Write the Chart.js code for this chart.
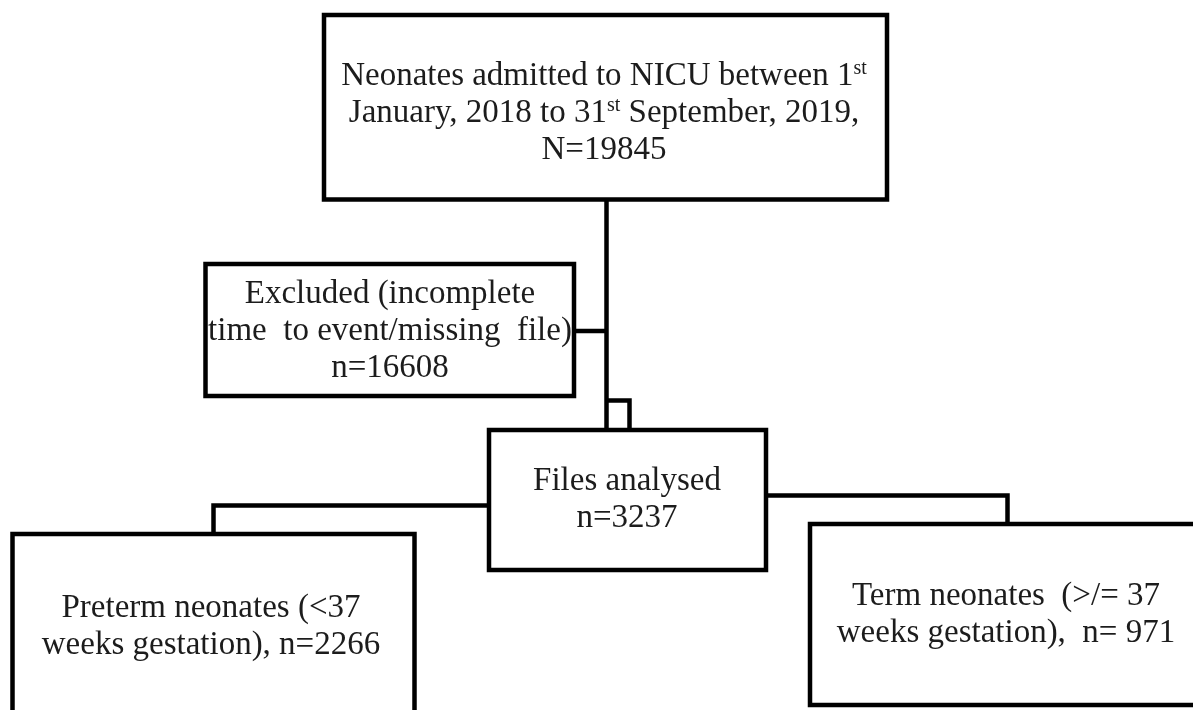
<!DOCTYPE html>
<html><head><meta charset="utf-8">
<script src="https://cdn.jsdelivr.net/npm/chart.js@4.4.1/dist/chart.umd.min.js"></script>
<style>html,body{margin:0;padding:0;background:#fff;overflow:hidden}canvas{display:block}</style>
</head><body>
<canvas id="c" width="1193" height="710"></canvas>
<script>
// ---- flowchart content ----
const nodeNames = ['admitted', 'excluded', 'analysed', 'preterm', 'term'];
const nodeLabels = [
  ['Neonates admitted to NICU between 1^st', 'January, 2018 to 31^st September, 2019,', 'N=19845'],
  ['Excluded (incomplete', 'time  to event/missing  file)', 'n=16608'],
  ['Files analysed', 'n=3237'],
  ['Preterm neonates (<37', 'weeks gestation), n=2266'],
  ['Term neonates  (>/= 37', 'weeks gestation),  n= 971']
];
const nodeCounts = [19845, 16608, 3237, 2266, 971];
// box extents (flowchart units)
const boxLeft   = [324, 205.5, 489, 12.5, 810];
const boxRight  = [887, 574, 766, 414.5, 1210];
const boxTop    = [15, 264, 430, 534, 524];
const boxBottom = [199.5, 396, 570, 720, 705];
const textCenterX = [604, 390, 627, 211, 1006];
const textFirstBaseline = [85, 303, 490, 617, 605];
// connectors as vertex lists
const links = [
  [[606.5, 199.5], [606.5, 430]],
  [[574, 331], [606.5, 331]],
  [[606.5, 400.5], [629.5, 400.5], [629.5, 430]],
  [[489, 505.5], [213.5, 505.5], [213.5, 534]],
  [[766, 495.5], [1007.5, 495.5], [1007.5, 524]]
];

const INK = '#000000';
const TXT = '#1c1c1c';
const FONT = '"Liberation Serif", "Times New Roman", serif';
const FS = 33, SUP = 20, LINE_H = 37;

const datasets = [];
nodeNames.forEach((n, i) => {
  datasets.push({
    label: n,
    data: [
      {x: boxLeft[i], y: boxTop[i]}, {x: boxRight[i], y: boxTop[i]},
      {x: boxRight[i], y: boxBottom[i]}, {x: boxLeft[i], y: boxBottom[i]},
      {x: boxLeft[i], y: boxTop[i]}
    ],
    showLine: true, borderColor: INK, borderWidth: 4.5, pointRadius: 0,
    borderJoinStyle: 'miter', borderCapStyle: 'square', fill: false, tension: 0, clip: false
  });
});
links.forEach((pts, i) => {
  datasets.push({
    label: 'link' + i,
    data: pts.map(p => ({x: p[0], y: p[1]})),
    showLine: true, borderColor: INK, borderWidth: 4.5, pointRadius: 0,
    borderJoinStyle: 'miter', borderCapStyle: 'butt', fill: false, tension: 0, clip: false
  });
});

function segs(line) {
  const out = [];
  const re = /\^(\w+)/g;
  let last = 0, m;
  while ((m = re.exec(line))) {
    if (m.index > last) out.push({t: line.slice(last, m.index), sup: false});
    out.push({t: m[1], sup: true});
    last = re.lastIndex;
  }
  if (last < line.length) out.push({t: line.slice(last), sup: false});
  return out;
}

const textPlugin = {
  id: 'nodeText',
  afterDatasetsDraw(chart) {
    const ctx = chart.ctx, xs = chart.scales.x, ys = chart.scales.y;
    ctx.save();
    ctx.fillStyle = TXT;
    ctx.textBaseline = 'alphabetic';
    ctx.textAlign = 'left';
    nodeLabels.forEach((lines, i) => {
      const cx = xs.getPixelForValue(textCenterX[i]);
      lines.forEach((line, k) => {
        const by = ys.getPixelForValue(textFirstBaseline[i] + k * LINE_H);
        const parts = segs(line);
        let w = 0;
        parts.forEach(p => { ctx.font = (p.sup ? SUP : FS) + 'px ' + FONT; p.w = ctx.measureText(p.t).width; w += p.w; });
        let x = cx - w / 2;
        parts.forEach(p => {
          ctx.font = (p.sup ? SUP : FS) + 'px ' + FONT;
          ctx.fillText(p.t, x, p.sup ? by - 11 : by);
          x += p.w;
        });
      });
    });
    ctx.restore();
  }
};

new Chart(document.getElementById('c'), {
  type: 'scatter',
  data: { datasets },
  options: {
    responsive: false, animation: false, events: [],
    layout: { padding: 0 },
    plugins: { legend: { display: false }, tooltip: { enabled: false } },
    scales: {
      x: { type: 'linear', min: 0, max: 1193, display: false },
      y: { type: 'linear', min: 0, max: 710, reverse: true, display: false }
    }
  },
  plugins: [textPlugin]
});
</script>
</body></html>
